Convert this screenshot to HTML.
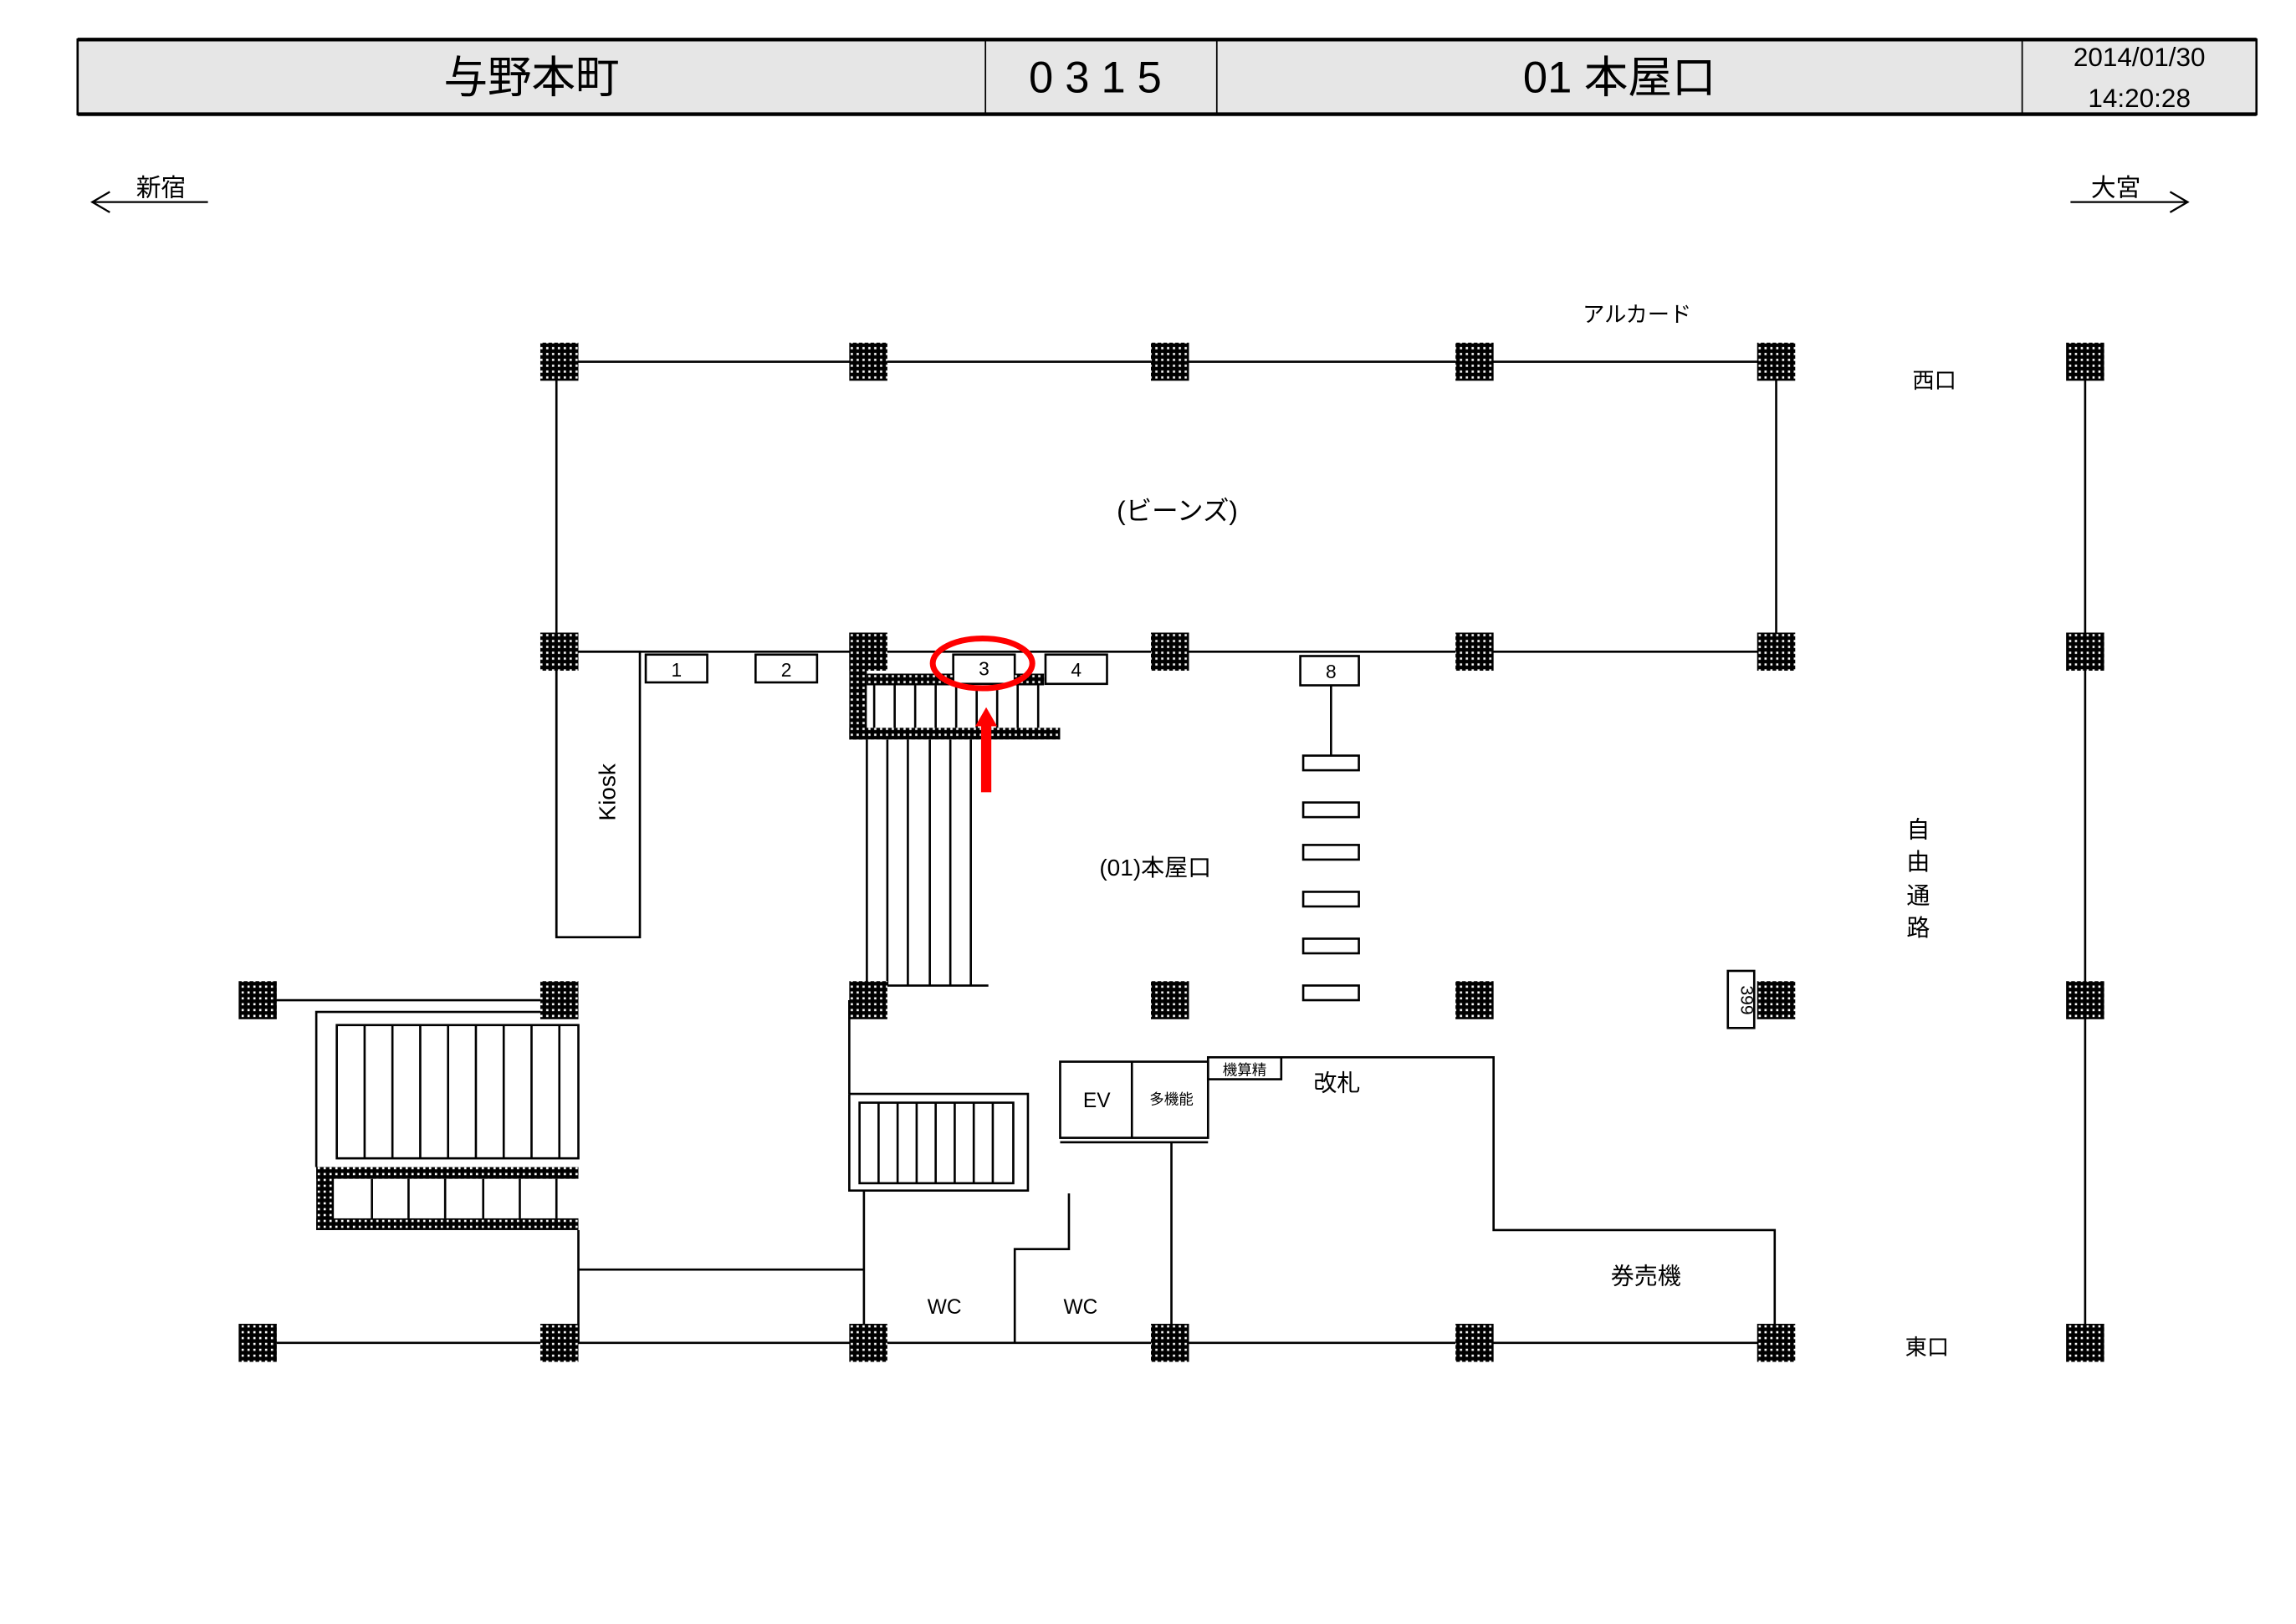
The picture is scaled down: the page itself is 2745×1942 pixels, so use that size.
<!DOCTYPE html>
<html><head><meta charset="utf-8"><style>
html,body{margin:0;padding:0;background:#fff;}
svg{display:block;}
text{font-family:"Liberation Sans","Noto Sans CJK JP",sans-serif;fill:#000;}
</style></head><body>
<svg width="2745" height="1942" viewBox="0 0 1568 1109" preserveAspectRatio="none" xmlns="http://www.w3.org/2000/svg">
<defs>
<pattern id="h" width="4" height="4" patternUnits="userSpaceOnUse">
<rect width="4" height="4" fill="#000"/><rect x="1" y="1" width="1.5" height="1.5" fill="#fff"/>
</pattern>
</defs>
<rect width="1568" height="1109" fill="#fff"/>
<rect x="53" y="27" width="1488" height="51" fill="#e6e6e6" stroke="#000" stroke-width="1.5"/>
<line x1="53" y1="27" x2="1541" y2="27" stroke="#000" stroke-width="2.5"/>
<line x1="53" y1="78" x2="1541" y2="78" stroke="#000" stroke-width="2.5"/>
<line x1="673" y1="27" x2="673" y2="78" stroke="#000"/>
<line x1="831" y1="27" x2="831" y2="78" stroke="#000"/>
<line x1="1381" y1="27" x2="1381" y2="78" stroke="#000"/>
<text x="363" y="63" font-size="30" text-anchor="middle">与野本町</text>
<text x="752" y="63" font-size="30" text-anchor="middle" letter-spacing="8">0315</text>
<text x="1106" y="63" font-size="30" text-anchor="middle">01 本屋口</text>
<text x="1461" y="45" font-size="18" text-anchor="middle">2014/01/30</text>
<text x="1461" y="73" font-size="18" text-anchor="middle">14:20:28</text>
<g stroke="#000" stroke-width="1.3" fill="none">
<line x1="63" y1="138" x2="142" y2="138"/><polyline points="75,131 63,138 75,145"/>
<line x1="1414" y1="138" x2="1494" y2="138"/><polyline points="1482,131 1494,138 1482,145"/>
</g>
<text x="110" y="134" font-size="17" text-anchor="middle">新宿</text>
<text x="1445" y="134" font-size="17" text-anchor="middle">大宮</text>
<g stroke="#000" stroke-width="1.5" fill="none">
<line x1="382" y1="247" x2="1213" y2="247"/>
<line x1="382" y1="445" x2="1213" y2="445"/>
<line x1="380" y1="247" x2="380" y2="640"/>
<line x1="1213" y1="247" x2="1213" y2="445"/>
<line x1="1424" y1="247" x2="1424" y2="917"/>
<line x1="176" y1="917" x2="1213" y2="917"/>
<line x1="176" y1="683" x2="382" y2="683"/>
<rect x="380" y="445" width="57" height="195"/>
<rect x="441" y="447" width="42" height="19"/>
<rect x="516" y="447" width="42" height="19"/>
<rect x="651" y="447" width="42" height="20"/>
<rect x="714" y="447" width="42" height="20"/>
<rect x="888" y="448" width="40" height="20"/>
<line x1="909" y1="468" x2="909" y2="516"/>
<rect x="890" y="516" width="38" height="10"/>
<rect x="890" y="548" width="38" height="10"/>
<rect x="890" y="577" width="38" height="10"/>
<rect x="890" y="609" width="38" height="10"/>
<rect x="890" y="641" width="38" height="10"/>
<rect x="890" y="673" width="38" height="10"/>
<line x1="592" y1="505" x2="592" y2="673"/><line x1="606" y1="505" x2="606" y2="673"/>
<line x1="620" y1="505" x2="620" y2="673"/><line x1="635" y1="505" x2="635" y2="673"/>
<line x1="649" y1="505" x2="649" y2="673"/><line x1="663" y1="505" x2="663" y2="673"/>
<line x1="592" y1="673" x2="675" y2="673"/>
<line x1="597" y1="468" x2="597" y2="497"/><line x1="611" y1="468" x2="611" y2="497"/>
<line x1="625" y1="468" x2="625" y2="497"/><line x1="639" y1="468" x2="639" y2="497"/>
<line x1="653" y1="468" x2="653" y2="497"/><line x1="667" y1="468" x2="667" y2="497"/>
<line x1="681" y1="468" x2="681" y2="497"/><line x1="695" y1="468" x2="695" y2="497"/>
<line x1="709" y1="468" x2="709" y2="497"/>
<polyline points="395,691 216,691 216,797"/>
<rect x="230" y="700" width="165" height="91"/>
<line x1="249" y1="700" x2="249" y2="791"/><line x1="268" y1="700" x2="268" y2="791"/>
<line x1="287" y1="700" x2="287" y2="791"/><line x1="306" y1="700" x2="306" y2="791"/>
<line x1="325" y1="700" x2="325" y2="791"/><line x1="344" y1="700" x2="344" y2="791"/>
<line x1="363" y1="700" x2="363" y2="791"/><line x1="382" y1="700" x2="382" y2="791"/>
<line x1="254" y1="805" x2="254" y2="832"/><line x1="279" y1="805" x2="279" y2="832"/>
<line x1="304" y1="805" x2="304" y2="832"/><line x1="330" y1="805" x2="330" y2="832"/>
<line x1="355" y1="805" x2="355" y2="832"/><line x1="380" y1="805" x2="380" y2="832"/>
<line x1="395" y1="840" x2="395" y2="917"/>
<line x1="395" y1="867" x2="590" y2="867"/>
<line x1="580" y1="683" x2="580" y2="747"/>
<polyline points="580,747 702,747 702,813 580,813 580,747"/>
<rect x="587" y="753" width="105" height="55"/>
<line x1="600" y1="753" x2="600" y2="808"/><line x1="613" y1="753" x2="613" y2="808"/>
<line x1="626" y1="753" x2="626" y2="808"/><line x1="639" y1="753" x2="639" y2="808"/>
<line x1="652" y1="753" x2="652" y2="808"/><line x1="665" y1="753" x2="665" y2="808"/>
<line x1="678" y1="753" x2="678" y2="808"/>
<line x1="590" y1="813" x2="590" y2="917"/>
<polyline points="693,917 693,853 730,853 730,815"/>
<rect x="724" y="725" width="101" height="52"/>
<line x1="773" y1="725" x2="773" y2="777"/>
<line x1="724" y1="780" x2="825" y2="780"/>
<line x1="800" y1="780" x2="800" y2="917"/>
<rect x="825" y="722" width="50" height="15"/>
<polyline points="875,722 1020,722 1020,840 1212,840 1212,917"/>
<rect x="1180" y="663" width="18" height="39"/>
</g>
<g fill="url(#h)">
<rect x="580" y="432" width="12" height="73"/>
<rect x="592" y="460" width="59" height="8"/>
<rect x="693" y="460" width="20" height="8"/>
<rect x="580" y="497" width="144" height="8"/>
<rect x="216" y="797" width="179" height="8"/>
<rect x="216" y="797" width="12" height="43"/>
<rect x="216" y="832" width="179" height="8"/>
</g>
<g fill="url(#h)">
<rect x="369" y="234" width="26" height="26"/><rect x="580" y="234" width="26" height="26"/>
<rect x="786" y="234" width="26" height="26"/><rect x="994" y="234" width="26" height="26"/>
<rect x="1200" y="234" width="26" height="26"/><rect x="1411" y="234" width="26" height="26"/>
<rect x="369" y="432" width="26" height="26"/><rect x="580" y="432" width="26" height="26"/>
<rect x="786" y="432" width="26" height="26"/><rect x="994" y="432" width="26" height="26"/>
<rect x="1200" y="432" width="26" height="26"/><rect x="1411" y="432" width="26" height="26"/>
<rect x="163" y="670" width="26" height="26"/><rect x="369" y="670" width="26" height="26"/>
<rect x="580" y="670" width="26" height="26"/><rect x="786" y="670" width="26" height="26"/>
<rect x="994" y="670" width="26" height="26"/><rect x="1200" y="670" width="26" height="26"/>
<rect x="1411" y="670" width="26" height="26"/>
<rect x="163" y="904" width="26" height="26"/><rect x="369" y="904" width="26" height="26"/>
<rect x="580" y="904" width="26" height="26"/><rect x="786" y="904" width="26" height="26"/>
<rect x="994" y="904" width="26" height="26"/><rect x="1200" y="904" width="26" height="26"/>
<rect x="1411" y="904" width="26" height="26"/>
</g>
<g font-size="13" text-anchor="middle">
<text x="462" y="462">1</text><text x="537" y="462">2</text>
<text x="672" y="461">3</text><text x="735" y="462">4</text><text x="909" y="463">8</text>
</g>
<text x="420" y="541" font-size="16" text-anchor="middle" transform="rotate(-90 420 541)">Kiosk</text>
<text x="1189" y="683" font-size="12" text-anchor="middle" transform="rotate(90 1189 683)">399</text>
<text x="1118" y="220" font-size="15" text-anchor="middle">アルカード</text>
<text x="1321" y="265" font-size="15" text-anchor="middle">西口</text>
<text x="804" y="355" font-size="18" text-anchor="middle">(ビーンズ)</text>
<text x="789" y="598" font-size="16" text-anchor="middle">(01)本屋口</text>
<g font-size="16" text-anchor="middle">
<text x="1310" y="572">自</text><text x="1310" y="594">由</text><text x="1310" y="617">通</text><text x="1310" y="639">路</text>
</g>
<text x="749" y="756" font-size="14" text-anchor="middle">EV</text>
<text x="800" y="754" font-size="10" text-anchor="middle">多機能</text>
<text x="850" y="734" font-size="10" text-anchor="middle">機算精</text>
<text x="913" y="745" font-size="16" text-anchor="middle">改札</text>
<text x="645" y="897" font-size="14" text-anchor="middle">WC</text>
<text x="738" y="897" font-size="14" text-anchor="middle">WC</text>
<text x="1124" y="877" font-size="16" text-anchor="middle">券売機</text>
<text x="1316" y="925" font-size="15" text-anchor="middle">東口</text>
<ellipse cx="671" cy="453" rx="34" ry="17" fill="none" stroke="#f00" stroke-width="4"/>
<rect x="670" y="495" width="7" height="46" fill="#f00"/>
<polygon points="666,496 681,496 673.5,483" fill="#f00"/>
</svg>
</body></html>
